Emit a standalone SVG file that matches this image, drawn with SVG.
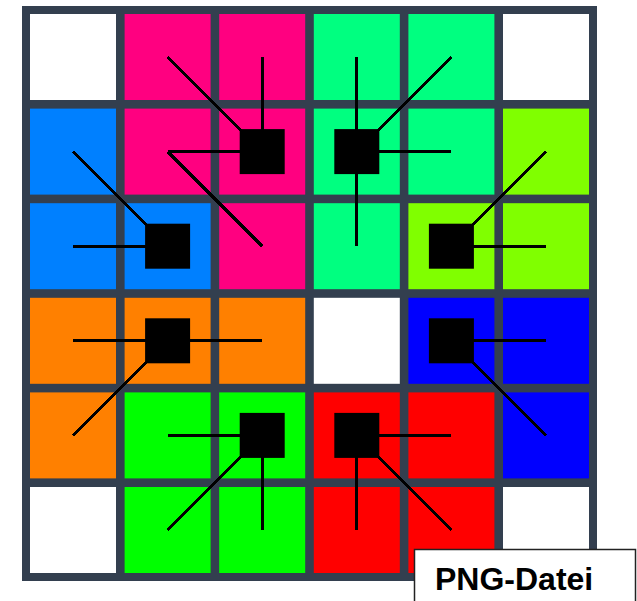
<svg xmlns="http://www.w3.org/2000/svg" width="637" height="601" viewBox="0 0 637 601">
<style>
.w{fill:#ffffff}.pk{fill:#ff0080}.tq{fill:#00ff80}.lb{fill:#0080ff}.lm{fill:#80ff00}.or{fill:#ff8000}.bl{fill:#0000ff}.gr{fill:#00ff00}.rd{fill:#ff0000}
.ln line{stroke:#000;stroke-width:3;shape-rendering:crispEdges}
.sq{fill:#000}
.lbl{fill:#fff;stroke:#222;stroke-width:1.5}
.t{font-family:"Liberation Sans",Arial,sans-serif;font-weight:bold;font-size:32px;fill:#000}
</style>
<rect x="22" y="6" width="575" height="575" fill="#333f4f"/>
<g id="cells">
<rect class="w" x="30" y="14" width="86" height="86"/>
<rect class="pk" x="124.6" y="14" width="86" height="86"/>
<rect class="pk" x="219.2" y="14" width="86" height="86"/>
<rect class="tq" x="313.8" y="14" width="86" height="86"/>
<rect class="tq" x="408.4" y="14" width="86" height="86"/>
<rect class="w" x="503" y="14" width="86" height="86"/>

<rect class="lb" x="30" y="108.6" width="86" height="86"/>
<rect class="pk" x="124.6" y="108.6" width="86" height="86"/>
<rect class="pk" x="219.2" y="108.6" width="86" height="86"/>
<rect class="tq" x="313.8" y="108.6" width="86" height="86"/>
<rect class="tq" x="408.4" y="108.6" width="86" height="86"/>
<rect class="lm" x="503" y="108.6" width="86" height="86"/>

<rect class="lb" x="30" y="203.2" width="86" height="86"/>
<rect class="lb" x="124.6" y="203.2" width="86" height="86"/>
<rect class="pk" x="219.2" y="203.2" width="86" height="86"/>
<rect class="tq" x="313.8" y="203.2" width="86" height="86"/>
<rect class="lm" x="408.4" y="203.2" width="86" height="86"/>
<rect class="lm" x="503" y="203.2" width="86" height="86"/>

<rect class="or" x="30" y="297.8" width="86" height="86"/>
<rect class="or" x="124.6" y="297.8" width="86" height="86"/>
<rect class="or" x="219.2" y="297.8" width="86" height="86"/>
<rect class="w" x="313.8" y="297.8" width="86" height="86"/>
<rect class="bl" x="408.4" y="297.8" width="86" height="86"/>
<rect class="bl" x="503" y="297.8" width="86" height="86"/>

<rect class="or" x="30" y="392.4" width="86" height="86"/>
<rect class="gr" x="124.6" y="392.4" width="86" height="86"/>
<rect class="gr" x="219.2" y="392.4" width="86" height="86"/>
<rect class="rd" x="313.8" y="392.4" width="86" height="86"/>
<rect class="rd" x="408.4" y="392.4" width="86" height="86"/>
<rect class="bl" x="503" y="392.4" width="86" height="86"/>

<rect class="w" x="30" y="487" width="86" height="86"/>
<rect class="gr" x="124.6" y="487" width="86" height="86"/>
<rect class="gr" x="219.2" y="487" width="86" height="86"/>
<rect class="rd" x="313.8" y="487" width="86" height="86"/>
<rect class="rd" x="408.4" y="487" width="86" height="86"/>
<rect class="w" x="503" y="487" width="86" height="86"/>
</g>
<g id="connectors" class="ln">
<line x1="262.2" y1="151.6" x2="262.2" y2="57"/>
<line x1="262.2" y1="151.6" x2="167.6" y2="151.6"/>
<line x1="262.2" y1="151.6" x2="167.6" y2="57"/>
<line x1="167.6" y1="151.6" x2="262.2" y2="246.2"/>
<line x1="356.8" y1="151.6" x2="356.8" y2="57"/>
<line x1="356.8" y1="151.6" x2="451.4" y2="57"/>
<line x1="356.8" y1="151.6" x2="451.4" y2="151.6"/>
<line x1="356.8" y1="151.6" x2="356.8" y2="246.2"/>
<line x1="167.6" y1="246.2" x2="73" y2="151.6"/>
<line x1="167.6" y1="246.2" x2="73" y2="246.2"/>
<line x1="451.4" y1="246.2" x2="546" y2="151.6"/>
<line x1="451.4" y1="246.2" x2="546" y2="246.2"/>
<line x1="167.6" y1="340.8" x2="73" y2="340.8"/>
<line x1="167.6" y1="340.8" x2="262.2" y2="340.8"/>
<line x1="167.6" y1="340.8" x2="73" y2="435.4"/>
<line x1="451.4" y1="340.8" x2="546" y2="340.8"/>
<line x1="451.4" y1="340.8" x2="546" y2="435.4"/>
<line x1="262.2" y1="435.4" x2="167.6" y2="435.4"/>
<line x1="262.2" y1="435.4" x2="167.6" y2="530"/>
<line x1="262.2" y1="435.4" x2="262.2" y2="530"/>
<line x1="356.8" y1="435.4" x2="451.4" y2="435.4"/>
<line x1="356.8" y1="435.4" x2="356.8" y2="530"/>
<line x1="356.8" y1="435.4" x2="451.4" y2="530"/>
</g>
<g id="node-pink"><rect class="sq" x="239.7" y="129.1" width="45" height="45"/></g>
<g id="node-teal"><rect class="sq" x="334.3" y="129.1" width="45" height="45"/></g>
<g id="node-lightblue"><rect class="sq" x="145.1" y="223.7" width="45" height="45"/></g>
<g id="node-lime"><rect class="sq" x="428.9" y="223.7" width="45" height="45"/></g>
<g id="node-orange"><rect class="sq" x="145.1" y="318.3" width="45" height="45"/></g>
<g id="node-blue"><rect class="sq" x="428.9" y="318.3" width="45" height="45"/></g>
<g id="node-green"><rect class="sq" x="239.7" y="412.9" width="45" height="45"/></g>
<g id="node-red"><rect class="sq" x="334.3" y="412.9" width="45" height="45"/></g>
<g id="label">
<rect class="lbl" x="414.5" y="549.5" width="221" height="60"/>
<text class="t" x="435" y="590">PNG-Datei</text>
</g>
</svg>
